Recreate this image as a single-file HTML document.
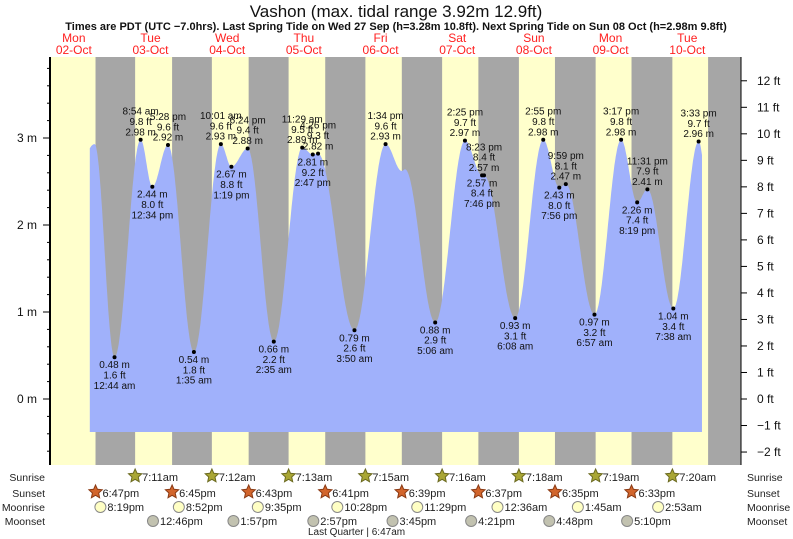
<!DOCTYPE html>
<html><head><meta charset="utf-8"><style>
html,body{margin:0;padding:0;background:#fff}
svg{display:block;font-family:"Liberation Sans",sans-serif}
</style></head><body>
<svg id="c" width="793" height="539" viewBox="0 0 793 539">
<text x="396" y="17" font-size="17" text-anchor="middle" fill="#111">Vashon (max. tidal range 3.92m 12.9ft)</text>
<text x="396" y="30" font-size="11" font-weight="bold" text-anchor="middle" fill="#111">Times are PDT (UTC −7.0hrs). Last Spring Tide on Wed 27 Sep (h=3.28m 10.8ft). Next Spring Tide on Sun 08 Oct (h=2.98m 9.8ft)</text>
<g id="bands"></g><g id="tide"></g><g id="axes"></g><g id="labels"></g><g id="astro"></g>
<text x="308" y="535" font-size="10" fill="#222">Last Quarter | 6:47am</text>
</svg>
<script>
// ---- data ----
const dayNames = ["Mon","Tue","Wed","Thu","Fri","Sat","Sun","Mon","Tue"];
const dayDates = ["02-Oct","03-Oct","04-Oct","05-Oct","06-Oct","07-Oct","08-Oct","09-Oct","10-Oct"];
const tideDay  = [0,0,1,1,1,1,2,2,2,2,3,3,3,3,4,4,4,4,5,5,5,5,6,6,6,6,7,7,7,7,8,8,8];
const tideTime = ["11:30","18:30","0:44","8:54","12:34","17:28","1:35","10:01","13:19","18:24","2:35","11:29","14:47","16:26","3:50","13:34","18:40","19:40","5:06","14:25","19:46","20:23","6:08","14:55","19:56","21:59","6:57","15:17","20:19","23:31","7:38","15:33","20:30"];
const tideH    = [2.5,2.93,0.48,2.98,2.44,2.92,0.54,2.93,2.67,2.88,0.66,2.89,2.81,2.82,0.79,2.93,2.62,2.64,0.88,2.97,2.57,2.57,0.93,2.98,2.43,2.47,0.97,2.98,2.26,2.41,1.04,2.96,1.5];
const tideType = [0,1,0,1,0,1,0,1,0,1,0,1,0,1,0,1,0,1,0,1,0,1,0,1,0,1,0,1,0,1,0,1,0];
const tideShow = [0,0,1,1,1,1,1,1,1,1,1,1,1,1,1,1,0,0,1,1,1,1,1,1,1,1,1,1,1,1,1,1,0];
const sunriseDay=[1,2,3,4,5,6,7,8], sunriseT=["7:11","7:12","7:13","7:15","7:16","7:18","7:19","7:20"];
const sunsetDay=[0,1,2,3,4,5,6,7,8], sunsetT=["18:47","18:45","18:43","18:41","18:39","18:37","18:35","18:33","18:31"];
const moonriseDay=[0,1,2,3,4,6,7,8], moonriseT=["20:19","20:52","21:35","22:28","23:29","0:36","1:45","2:53"];
const moonsetDay=[1,2,3,4,5,6,7], moonsetT=["12:46","13:57","14:57","15:45","16:21","16:48","17:10"];
const mTicks=[0,1,2,3], ftTicks=[-2,-1,0,1,2,3,4,5,6,7,8,9,10,11,12];

// ---- scales ----
const PL=50, PR=741, PT=57, PB=465, X0=35.5, PXH=3.195;
const x = t => X0 + t*PXH;
const y = h => 399 - h*87;
const NS="http://www.w3.org/2000/svg";
function hrs(d,s){const p=s.split(":");return d*24+(+p[0])+(+p[1])/60;}
function mk(tag,attrs,parent,txt){const e=document.createElementNS(NS,tag);for(const k in attrs)e.setAttribute(k,attrs[k]);if(txt!==undefined)e.textContent=txt;parent.appendChild(e);return e;}
function fmt12(s){let [h,m]=s.split(":").map(Number);const ap=h<12?"am":"pm";let hh=h%12;if(hh===0)hh=12;return hh+":"+String(m).padStart(2,"0")+" "+ap;}
function fmtS(s){return fmt12(s).replace(" ","");}
const bands=document.getElementById("bands"),tide=document.getElementById("tide"),axes=document.getElementById("axes"),labels=document.getElementById("labels"),astro=document.getElementById("astro");

let bg=mk("rect",{x:PL,y:PT,width:PR-PL,height:PB-PT,fill:"#ffffcc"},bands);


for(let i=0;i<sunsetDay.length;i++){
  const s=hrs(sunsetDay[i],sunsetT[i]);
  const r=i<sunriseDay.length?hrs(sunriseDay[i],sunriseT[i]):999;
  const x1=Math.max(PL,x(s)),x2=Math.min(PR,x(r));
  const g=mk("rect",{x:x1,y:PT,width:x2-x1,height:PB-PT,fill:"#a6a6a6"},bands);
  
  
}
for(let d=0;d<dayNames.length;d++){
  const cx=x(d*24+12);
  const t1=mk("text",{x:cx,y:42,"font-size":12,fill:"#ff2020","text-anchor":"middle"},labels,dayNames[d]);
  
  
  const t2=mk("text",{x:cx,y:54,"font-size":12,fill:"#ff2020","text-anchor":"middle"},labels,dayDates[d]);
  
  
}
const T=tideTime.map((s,i)=>hrs(tideDay[i],s));
const tStart=17, tEnd=208.6, base=432;
let pts=[];
for(let t=tStart;t<=tEnd+0.001;t+=0.2){
  let i=0;while(i<T.length-2&&T[i+1]<t)i++;
  const f=(t-T[i])/(T[i+1]-T[i]);
  const h=tideH[i]+(tideH[i+1]-tideH[i])*(1-Math.cos(Math.PI*f))/2;
  pts.push(x(t).toFixed(1)+","+y(h).toFixed(1));
}
const area=mk("path",{d:"M"+x(tStart)+","+base+" L"+pts.join(" L")+" L"+x(tEnd)+","+base+" Z",fill:"#a0b1fb"},tide);


for(let i=0;i<T.length;i++){
  if(!tideShow[i])continue;
  const high=tideType[i]===1;
  const px=x(T[i]),py=y(tideH[i]);
  const dot=mk("circle",{cx:px,cy:py,r:2,fill:"#000"},labels);
  
  
  const ft=(tideH[i]*3.2808).toFixed(1)+" ft", m=tideH[i].toFixed(2)+" m", tm=fmt12(tideTime[i]);
  const lines=high?[tm,ft,m]:[m,ft,tm];
  const y0=high?py-25:py+11;
  lines.forEach((s,k)=>{
    const tx=mk("text",{x:px,y:y0+k*10.3,"font-size":10,fill:"#111","text-anchor":"middle"},labels,s);
    
    
  });
}
const la=mk("line",{x1:PL,y1:PT,x2:PL,y2:PB,stroke:"#000","stroke-width":2},axes);


for(let v=-0.6;v<=3.81;v+=0.2){
  const yy=y(v); if(yy<PT||yy>PB)continue;
  const major=Math.abs(v-Math.round(v))<0.01;
  const tk=mk("line",{x1:PL-(major?7:3),y1:yy,x2:PL,y2:yy,stroke:"#000"},axes);
  
  
}
mTicks.forEach(v=>{
  const t=mk("text",{x:37,y:y(v)+4,"font-size":12,fill:"#111","text-anchor":"end"},axes,v+" m");
  
  
});
const ra=mk("line",{x1:PR,y1:PT,x2:PR,y2:PB,stroke:"#000","stroke-width":1},axes);


ftTicks.forEach(v=>{
  const yy=y(v/3.2808);
  const tk=mk("line",{x1:PR,y1:yy,x2:PR+6,y2:yy,stroke:"#000"},axes);
  
  
  const t=mk("text",{x:PR+16,y:yy+4,"font-size":12,fill:"#111"},axes,(v<0?"−"+(-v):v)+" ft");
  
  
});
const rows=[["Sunrise",481],["Sunset",497],["Moonrise",511],["Moonset",525]];
rows.forEach(r=>{
  const a=mk("text",{x:45,y:r[1],"font-size":10.5,fill:"#222","text-anchor":"end"},astro,r[0]);
  
  
  const b=mk("text",{x:747,y:r[1],"font-size":10.5,fill:"#222"},astro,r[0]);
  
  
});
function star(cx,cy,fill,stroke){
  let p=[];for(let k=0;k<10;k++){const a=-Math.PI/2+k*Math.PI/5,r=k%2?3.3:7;p.push((cx+r*Math.cos(a)).toFixed(1)+","+(cy+r*Math.sin(a)).toFixed(1));}
  return mk("polygon",{points:p.join(" "),fill:fill,stroke:stroke,"stroke-width":1},astro);
}
function addRow(days,times,yb,kind){
  days.forEach((d,i)=>{
    const t=hrs(d,times[i]);const cx=x(t);if(cx<PL-5||cx>700)return;
    let ic;
    if(kind==="sunrise")ic=star(cx,yb-5,"#a9a634","#6b6a20");
    else if(kind==="sunset")ic=star(cx,yb-5,"#d2652c","#8a3a14");
    else ic=mk("circle",{cx:cx,cy:yb-4,r:5.5,fill:kind==="moonrise"?"#ffffc4":"#c2c2b0",stroke:"#888","stroke-width":1},astro);
    
    
    const tx=mk("text",{x:cx+7,y:yb,"font-size":11,fill:"#222"},astro,fmtS(times[i]));
    
    
  });
}
addRow(sunriseDay,sunriseT,481,"sunrise");
addRow(sunsetDay,sunsetT,497,"sunset");
addRow(moonriseDay,moonriseT,511,"moonrise");
addRow(moonsetDay,moonsetT,525,"moonset");
</script>
</body></html>
